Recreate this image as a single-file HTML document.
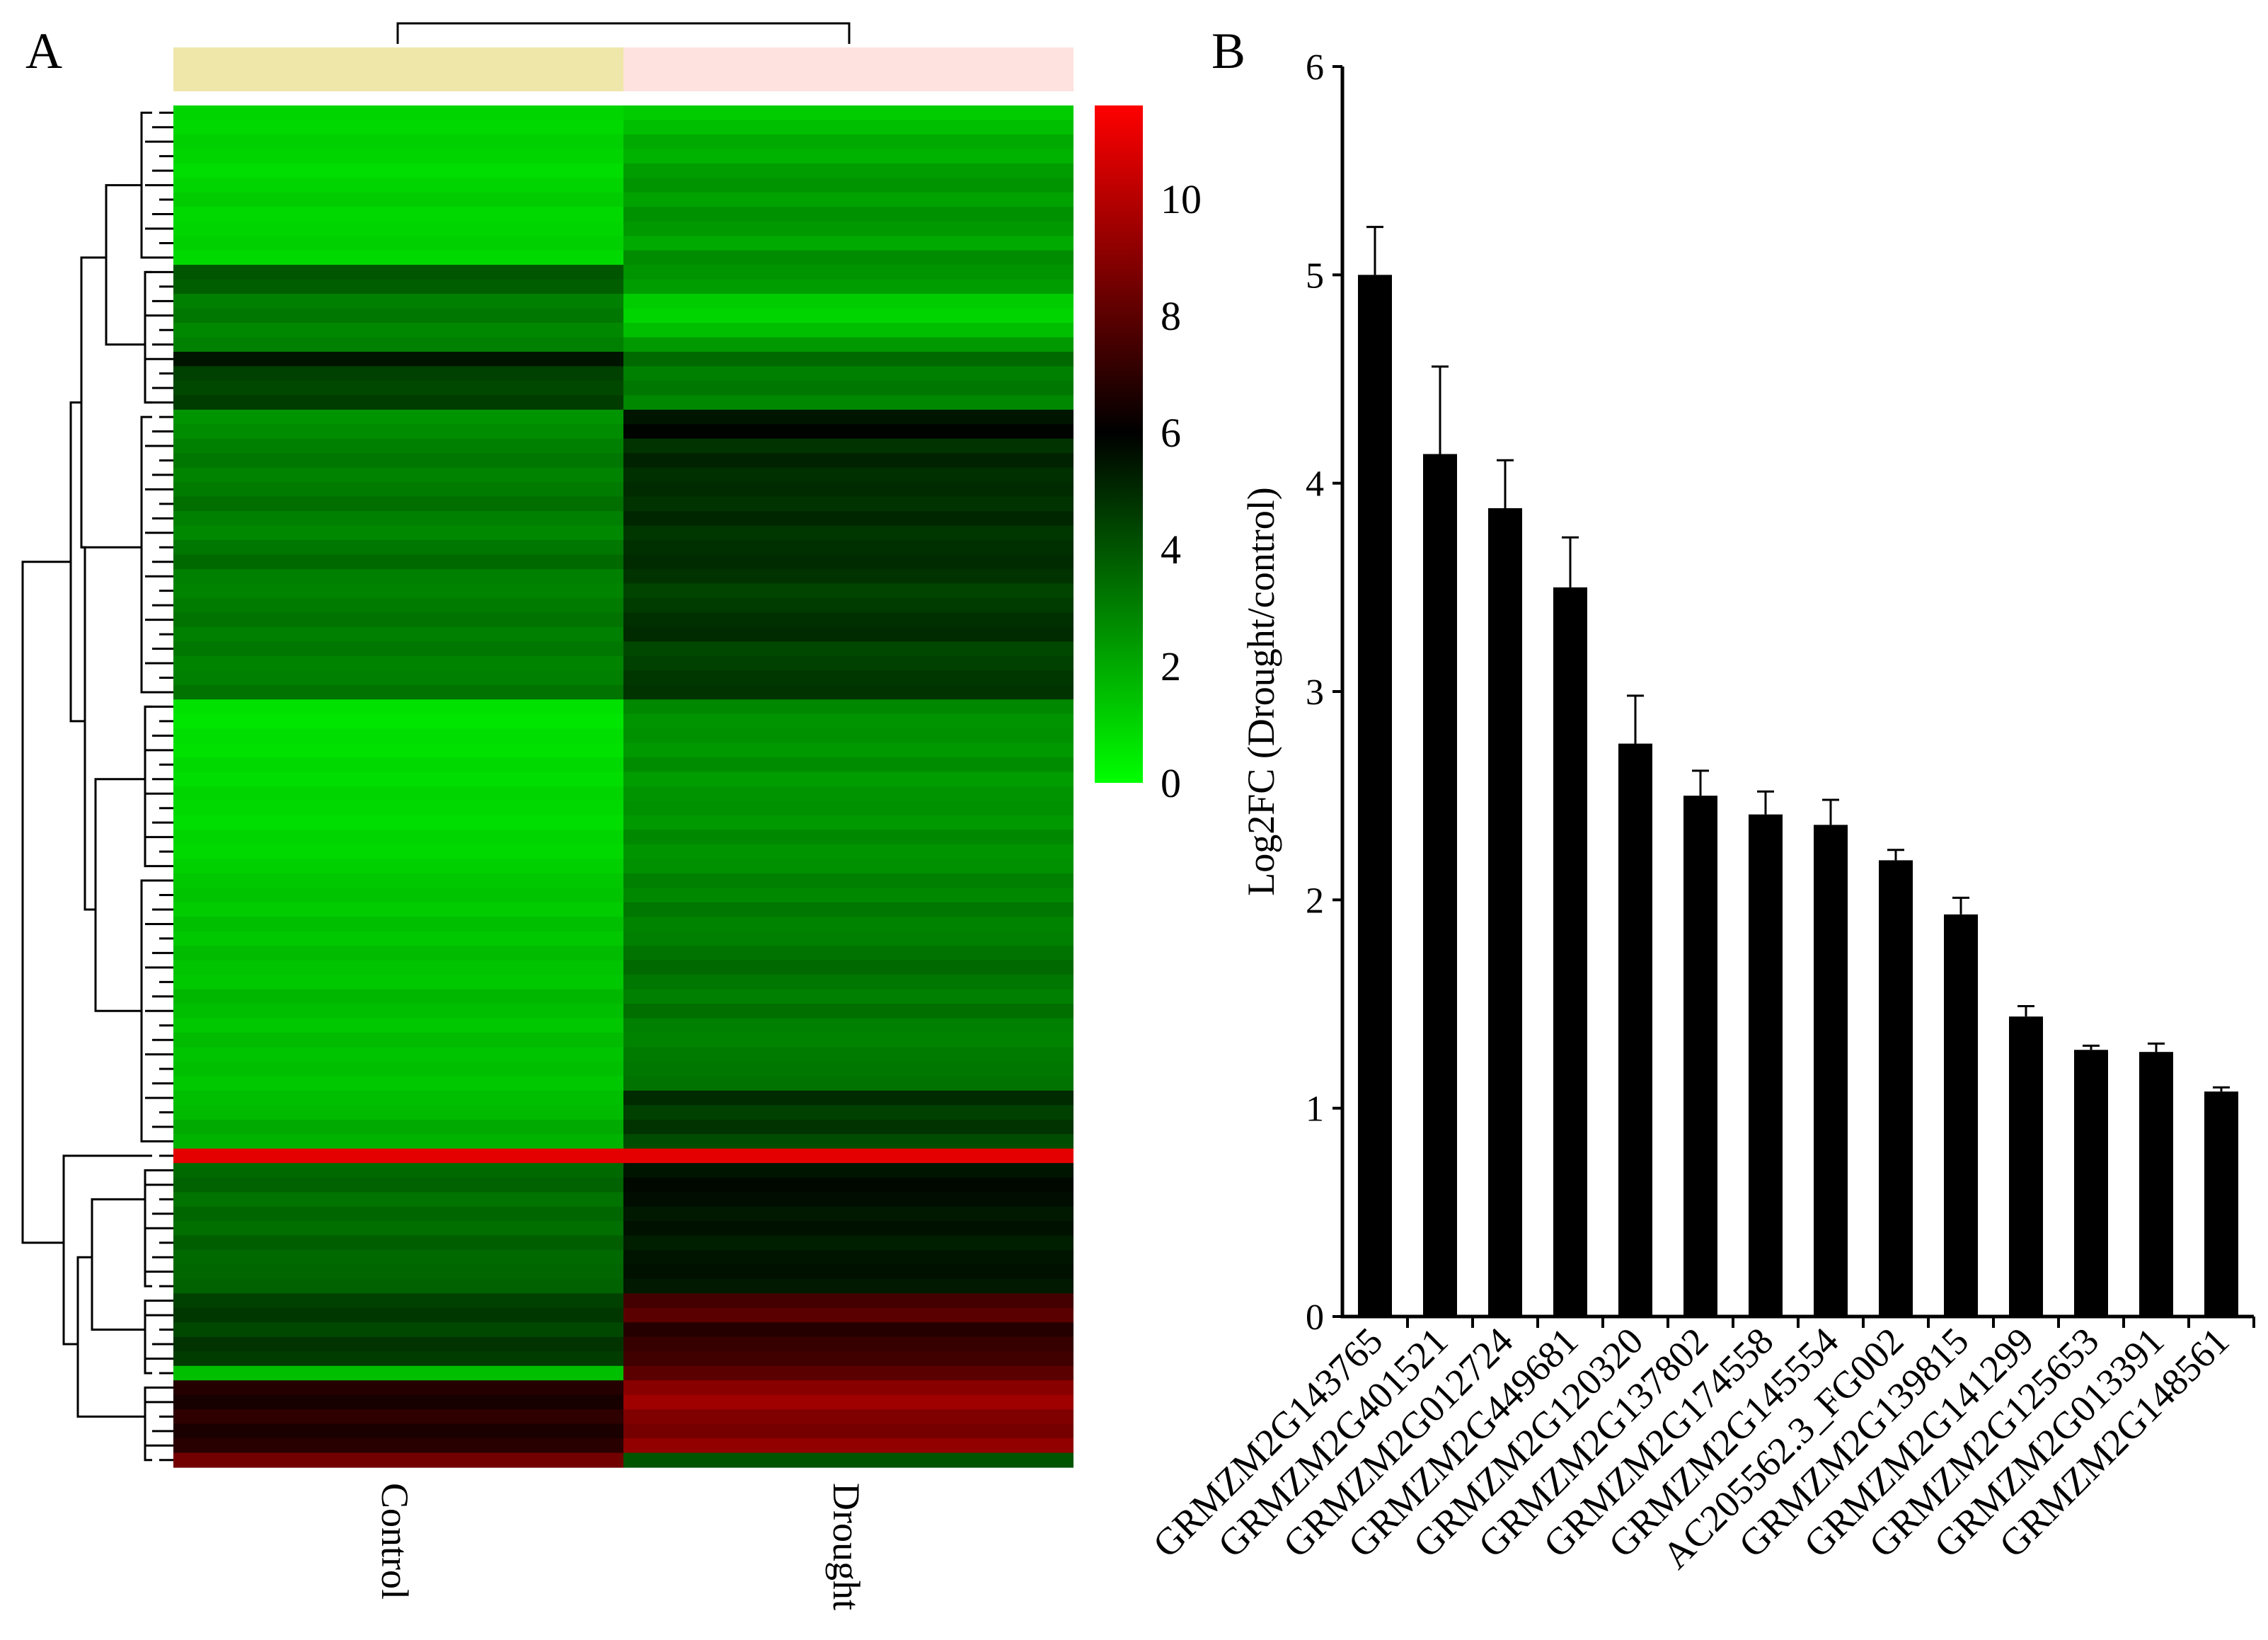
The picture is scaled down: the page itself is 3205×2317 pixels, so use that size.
<!DOCTYPE html>
<html><head><meta charset="utf-8"><style>
html,body{margin:0;padding:0;background:#fff}
svg, svg text{font-family:"Liberation Serif","Times New Roman",serif}
svg{display:block}
</style></head><body>
<svg id="fig" width="3205" height="2317" viewBox="0 0 3205 2317" xmlns="http://www.w3.org/2000/svg" font-family="Liberation Serif, serif">
<text x="36" y="96" font-size="72">A</text>
<text x="1712" y="96" font-size="72">B</text>
<g id="heat"></g>
<g id="dendro" fill="none" stroke="#000" stroke-width="3"></g>
<path d="M562,62 V33 H1200 V62" fill="none" stroke="#000" stroke-width="3"/>
<rect x="245" y="67" width="636" height="62" fill="#efe6aa"/>
<rect x="881" y="67" width="636" height="62" fill="#fde2e0"/>
<text transform="translate(540,2095) rotate(90)" font-size="54">Control</text>
<text transform="translate(1178,2095) rotate(90)" font-size="54">Drought</text>
<defs><linearGradient id="cg" x1="0" y1="1" x2="0" y2="0">
<stop offset="0" stop-color="#00ff00"/><stop offset="0.517" stop-color="#000"/><stop offset="1" stop-color="#ff0000"/></linearGradient></defs>
<rect x="1547" y="149" width="68" height="957" fill="url(#cg)"/>
<g id="cbticks" font-size="58"></g>
<g id="bars"></g>
</svg>
<script>
const ns="http://www.w3.org/2000/svg";
function mk(t,a,p){const e=document.createElementNS(ns,t);for(const k in a)e.setAttribute(k,a[k]);p.appendChild(e);return e;}
const controlVals=[1,0.9,1.1,1,0.8,1,1.2,0.9,1,1.1,0.9, 4,3.8, 3,3.2,2.8,3, 5.5, 4.5,4.3,4.6, 2.5,2.7,
3,3.2,2.9,3.1,3.4,3,2.8,3.2,3.5,3,2.9,3.1,3.3,3,3.2,2.9,3,3.3,
0.7,0.6,0.8,0.7,0.9,0.8,1,0.9,0.8,1,0.9,1.1,
1.3,1.4,1.2,1.5,1.3,1.6,1.4,1.3,1.7,1.5,1.3,1.6,1.4,1.5,1.3,
1.5,1.6,2,1.8, 11, 3.5,3.7,3.3,3.6,3.4,3.8,3.5,3.6,3.7, 4.5,4.7,4.3,4.8,4.6, 1.5, 6.8,6.5,7,6.6,6.9, 8.5];
const droughtVals=[1.2,1.5,2,1.8,2.3,2.5,2.2,2.6,2.4,2,2.7, 2.5,2.3, 1.2,1,1.5,2.4, 3.5, 3,3.2,2.8, 5.5,5.9,
4.8,5.2,4.9,5,4.8,5.1,4.7,4.9,5,4.8,4.4,4.6,4.9,5,4.3,4.5,4.7,4.8,
2.8,2.5,2.6,2.4,2.7,2.3,2.5,2.6,2.4,2.8,2.5,2.6,
3,2.8,3.2,2.9,3,3.3,3.5,3.2,3,3.4,3,2.9,3.1,3.2,3.3,
5,4.5,4.8,4.2, 11, 5.5,5.8,5.7,5.4,5.6,5.3,5.5,5.6,5.4, 7.5,8,6.8,7.2,7.4, 8, 9,9.5,8.8,8.6,9.2, 4];
const cbTickLabels=[0,2,4,6,8,10];
const vmax=11.6, hx0=245, hx1=1517, hmid=881, hy0=149, hy1=2073;
function col(v){ if(v<=6){const g=Math.round(255*(1-v/6));return `rgb(0,${g},0)`;} const r=Math.round(255*Math.min(1,(v-6)/(vmax-6)));return `rgb(${r},0,0)`;}
const heat=document.getElementById('heat');
const rh=(hy1-hy0)/controlVals.length;
controlVals.forEach((v,i)=>{
 const r=mk('rect',{x:hx0,y:hy0+i*rh,width:hmid-hx0,height:rh+0.6,fill:col(v)},heat);
 
 
});
droughtVals.forEach((v,i)=>{
 const r=mk('rect',{x:hmid,y:hy0+i*rh,width:hx1-hmid,height:rh+0.6,fill:col(v)},heat);
 
 
});
const cbY=v=>1106-(1106-149)*v/vmax;
const cbt=document.getElementById('cbticks');
cbTickLabels.forEach(v=>{const t=mk('text',{x:1640,y:cbY(v)+20},cbt);t.textContent=v;
 
 });
const dg=document.getElementById('dendro');
const rowY=i=>hy0+(i+0.5)*rh;
function bracket(x,ya,xa,yb,xb){mk('path',{d:`M${xa},${ya} H${x} V${yb} H${xb}`},dg);}
for(let i=0;i<controlVals.length;i++){const y=rowY(i);mk('path',{d:`M${hx0},${y} H${225-(i%3)*10}`},dg);}
const groups=[[0,10,200],[11,20,205],[21,40,200],[41,52,205],[53,71,200],[72,72,215],[73,81,205],[82,87,205],[88,93,205]];
groups.forEach(g=>{bracket(g[2],rowY(g[0]),215,rowY(g[1]),215);});
bracket(150,rowY(5),200,rowY(16),205);
bracket(115,rowY(10),150,rowY(30),200);
bracket(135,rowY(46),205,rowY(62),200);
bracket(120,rowY(30),115,rowY(55),135);
bracket(100,rowY(20),115,rowY(42),120);
bracket(130,rowY(75),205,rowY(84),205);
bracket(110,rowY(79),130,rowY(90),205);
bracket(90,rowY(72),215,rowY(85),110);
bracket(32,rowY(31),100,rowY(78),90);
const genes=["GRMZM2G143765","GRMZM2G401521","GRMZM2G012724","GRMZM2G449681","GRMZM2G120320","GRMZM2G137802","GRMZM2G174558","GRMZM2G145554","AC205562.3_FG002","GRMZM2G139815","GRMZM2G141299","GRMZM2G125653","GRMZM2G013391","GRMZM2G148561"];
const means=[5.0,4.14,3.88,3.5,2.75,2.5,2.41,2.36,2.19,1.93,1.44,1.28,1.27,1.08];
const errs=[0.23,0.42,0.23,0.24,0.23,0.12,0.11,0.12,0.05,0.08,0.05,0.02,0.04,0.02];
const yTicks=[0,1,2,3,4,5,6];
const ax0=1897, ax1=3185, ay0=1860, yScale=v=>ay0-v*(1860-94)/6;
const bw=(ax1-ax0)/genes.length, xC=i=>ax0+(i+0.5)*bw;
const bg=document.getElementById('bars');
genes.forEach((g,i)=>{
 const y=yScale(means[i]), ye=yScale(means[i]+errs[i]);
 const r=mk('rect',{x:xC(i)-24,y:y,width:48,height:ay0-y,fill:'#000'},bg);
 
 
 const e=mk('path',{d:`M${xC(i)},${y} V${ye} M${xC(i)-12},${ye} H${xC(i)+12}`,stroke:'#000','stroke-width':3,fill:'none'},bg);
 
 
 const tk=mk('path',{d:`M${ax0+(i+1)*bw},${ay0} V${ay0+16}`,stroke:'#000','stroke-width':4},bg);
 
 
 const t=mk('text',{transform:`translate(${xC(i)+14},${ay0+38}) rotate(-45)`,'text-anchor':'end','font-size':54},bg);
 t.textContent=g;
 
 
});
const axes=mk('path',{d:`M${ax0},${yScale(6)} V${ay0} H${ax1}`,stroke:'#000','stroke-width':5,fill:'none'},bg);


yTicks.forEach(v=>{
 const tk=mk('path',{d:`M${ax0-14},${yScale(v)} H${ax0}`,stroke:'#000','stroke-width':4},bg);
 
 
 const t=mk('text',{x:ax0-26,y:yScale(v)+18,'text-anchor':'end','font-size':52},bg);
 t.textContent=v;
 
 
});
const yl=mk('text',{transform:'translate(1800,977) rotate(-90)','text-anchor':'middle','font-size':54},bg);
yl.textContent='Log2FC (Drought/control)';


</script>
</body></html>
